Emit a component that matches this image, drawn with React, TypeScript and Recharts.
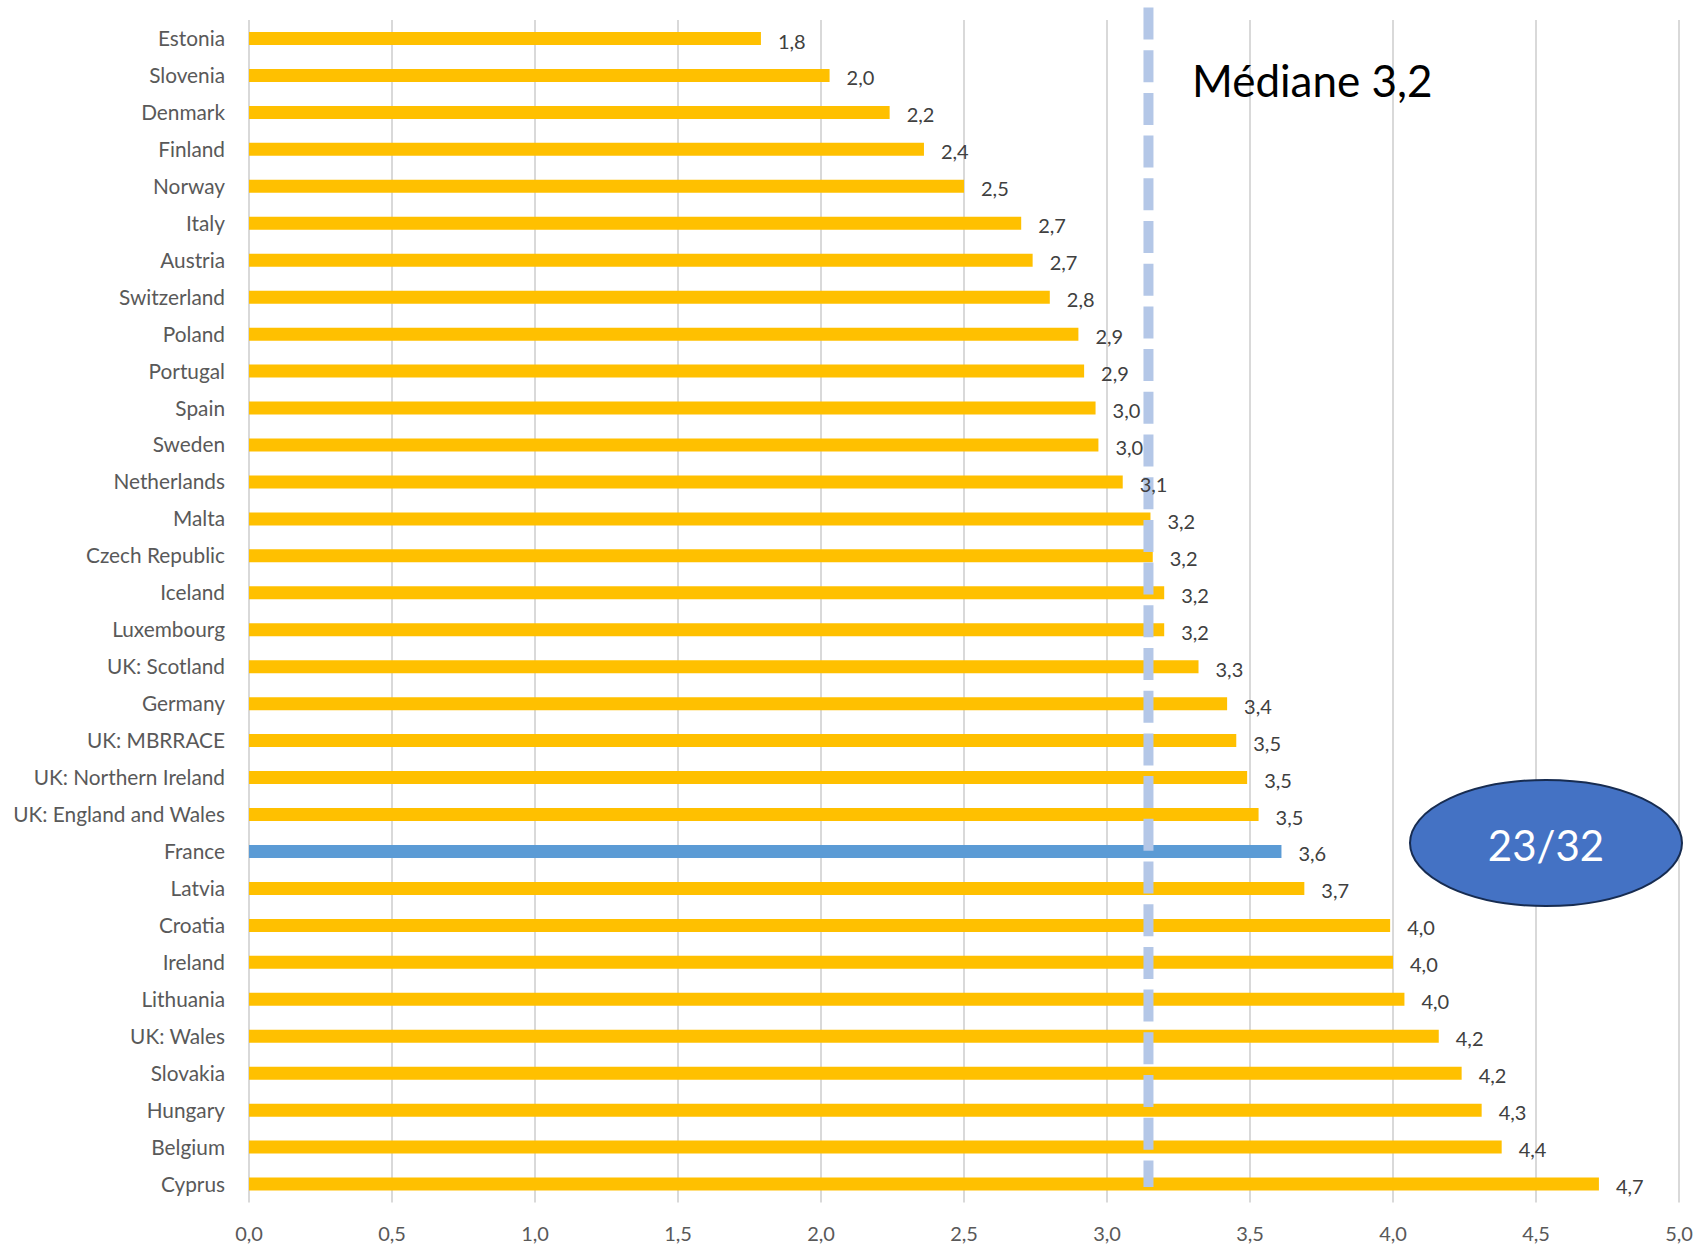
import React from 'react';
import { BarChart, Bar, XAxis, YAxis, CartesianGrid, Cell, LabelList, ReferenceLine } from 'recharts';

const categories = [
  'Estonia', 'Slovenia', 'Denmark', 'Finland', 'Norway', 'Italy', 'Austria', 'Switzerland',
  'Poland', 'Portugal', 'Spain', 'Sweden', 'Netherlands', 'Malta', 'Czech Republic', 'Iceland',
  'Luxembourg', 'UK: Scotland', 'Germany', 'UK: MBRRACE', 'UK: Northern Ireland',
  'UK: England and Wales', 'France', 'Latvia', 'Croatia', 'Ireland', 'Lithuania', 'UK: Wales',
  'Slovakia', 'Hungary', 'Belgium', 'Cyprus',
];

const values = [
  1.79, 2.03, 2.24, 2.36, 2.5, 2.7, 2.74, 2.8,
  2.9, 2.92, 2.96, 2.97, 3.055, 3.152, 3.16, 3.2,
  3.2, 3.32, 3.42, 3.452, 3.49,
  3.53, 3.61, 3.69, 3.99, 4.0, 4.04, 4.16,
  4.24, 4.31, 4.38, 4.72,
];

const highlighted = 'France';
const xTicks = [0, 0.5, 1, 1.5, 2, 2.5, 3, 3.5, 4, 4.5, 5];
const medianPosition = 3.145;
const medianLabel = 'Médiane 3,2';
const rankLabel = '23/32';

const data = categories.map((name, i) => ({ name, value: values[i] }));

const FONT = 'Lato, "Open Sans", "DejaVu Sans", sans-serif';
const fmt = (v: number) => (Math.round(v * 10) / 10).toFixed(1).replace('.', ',');

const W = 1703;
const H = 1246;

const CategoryTick = (props: any) => {
  const { x, y, payload } = props;
  return (
    <text x={x - 24} y={y - 1} textAnchor="end" dominantBaseline="central" fill="#595959" fontSize={20.8} fontFamily={FONT}>
      {payload.value}
    </text>
  );
};

const ValueTick = (props: any) => {
  const { x, y, payload } = props;
  return (
    <text x={x} y={y + 30} textAnchor="middle" dominantBaseline="central" fill="#595959" fontSize={20} fontFamily={FONT}>
      {fmt(payload.value)}
    </text>
  );
};

const ValueLabel = (props: any) => {
  const { x, y, width, height, value } = props;
  return (
    <text x={Number(x) + Number(width) + 17} y={Number(y) + Number(height) / 2 + 2} dominantBaseline="central" fill="#404040" fontSize={20} fontFamily={FONT}>
      {fmt(Number(value))}
    </text>
  );
};

const MedianShape = (p: any) => (
  <line x1={p.x1} x2={p.x2} y1={7.5} y2={1187} stroke="#B4C7E7" strokeWidth={10} strokeDasharray="32 10.7" />
);

export default function App() {
  return (
    <div style={{ position: 'relative', width: W, height: H }}>
      <style>{`body{margin:0;}`}</style>
      <BarChart
        width={W}
        height={H}
        data={data}
        layout="vertical"
        margin={{ top: 20, right: 24, bottom: 0, left: 0 }}
      >
        <CartesianGrid horizontal={false} vertical={true} stroke="#D9D9D9" strokeWidth={2} />
        <XAxis
          type="number"
          domain={[0, 5]}
          ticks={xTicks}
          axisLine={false}
          tickLine={false}
          tickSize={0}
          tickMargin={0}
          height={43.5}
          tick={<ValueTick />}
          interval={0}
        />
        <YAxis
          type="category"
          dataKey="name"
          width={249}
          axisLine={false}
          tickLine={false}
          tickSize={0}
          tickMargin={0}
          tick={<CategoryTick />}
          interval={0}
        />
        <Bar dataKey="value" barSize={13} isAnimationActive={false}>
          {data.map((d) => (
            <Cell key={d.name} fill={d.name === highlighted ? '#5B9BD5' : '#FFC000'} />
          ))}
          <LabelList dataKey="value" content={<ValueLabel />} />
        </Bar>
        <ReferenceLine x={medianPosition} shape={MedianShape} ifOverflow="visible" />
      </BarChart>
      <svg width={W} height={H} style={{ position: 'absolute', left: 0, top: 0, pointerEvents: 'none' }}>
        <text x={1192} y={80} dominantBaseline="central" fontSize={44} fontFamily={FONT} fill="#000000">
          {medianLabel}
        </text>
        <ellipse cx={1546} cy={843} rx={136} ry={63} fill="#4472C4" stroke="#172C51" strokeWidth={2} />
        <text x={1546} y={845} textAnchor="middle" dominantBaseline="central" fontSize={42} fontFamily={FONT} fill="#FFFFFF">
          {rankLabel}
        </text>
      </svg>
    </div>
  );
}
